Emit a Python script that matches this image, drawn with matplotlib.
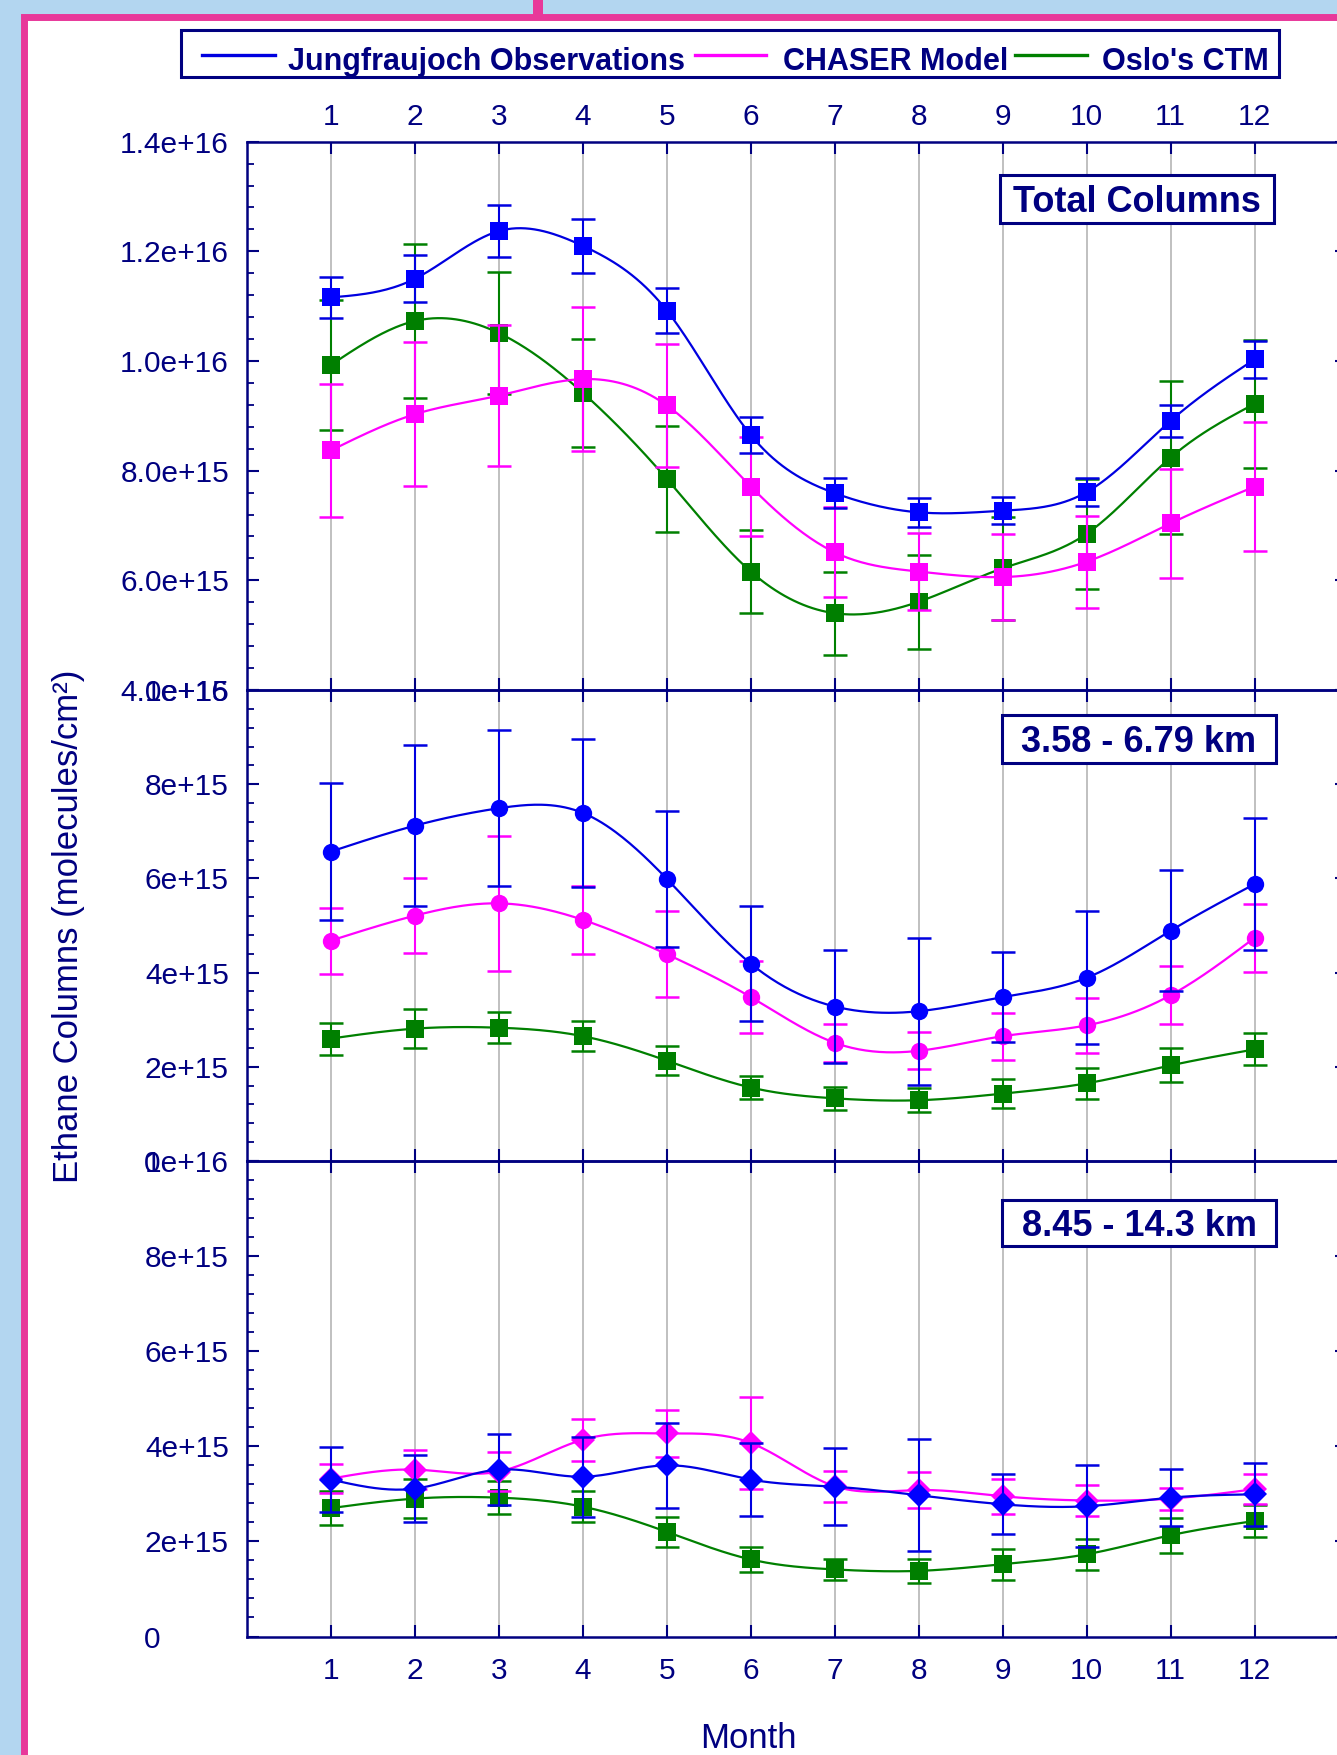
import numpy as np
import matplotlib
matplotlib.use('Agg')
import matplotlib.pyplot as plt
from matplotlib.patches import Rectangle
from matplotlib.lines import Line2D
from matplotlib.ticker import MultipleLocator, FixedLocator
import matplotlib.transforms as mtrans

plt.rcParams['font.family'] = ['Liberation Sans', 'DejaVu Sans']

# ---------------- data (units of 1e15 molecules/cm2) ----------------
months = [1, 2, 3, 4, 5, 6, 7, 8, 9, 10, 11, 12]
month_labels = ['1', '2', '3', '4', '5', '6', '7', '8', '9', '10', '11', '12']

series_names = ["Jungfraujoch Observations", "CHASER Model", "Oslo's CTM"]

# Total columns
tot_obs = [11.16, 11.50, 12.37, 12.10, 10.92, 8.65, 7.59, 7.24, 7.27, 7.61, 8.91, 10.03]
tot_obs_err = [0.37, 0.43, 0.48, 0.49, 0.41, 0.32, 0.27, 0.26, 0.25, 0.26, 0.29, 0.34]
tot_chaser = [8.37, 9.03, 9.37, 9.67, 9.19, 7.71, 6.51, 6.16, 6.06, 6.34, 7.04, 7.71]
tot_chaser_err = [1.21, 1.31, 1.29, 1.32, 1.12, 0.90, 0.82, 0.71, 0.79, 0.84, 0.99, 1.18]
tot_oslo = [9.93, 10.73, 10.51, 9.42, 7.85, 6.16, 5.40, 5.61, 6.22, 6.85, 8.24, 9.22]
tot_oslo_err = [1.18, 1.40, 1.12, 0.99, 0.97, 0.75, 0.76, 0.86, 0.94, 1.00, 1.40, 1.17]

# 3.58 - 6.79 km
mid_obs = [6.57, 7.12, 7.49, 7.39, 5.99, 4.19, 3.28, 3.18, 3.48, 3.89, 4.89, 5.88]
mid_obs_err = [1.45, 1.71, 1.66, 1.58, 1.45, 1.22, 1.20, 1.56, 0.95, 1.41, 1.29, 1.41]
mid_chaser = [4.68, 5.21, 5.47, 5.12, 4.39, 3.48, 2.51, 2.34, 2.65, 2.88, 3.52, 4.74]
mid_chaser_err = [0.70, 0.80, 1.43, 0.72, 0.91, 0.77, 0.40, 0.39, 0.50, 0.58, 0.62, 0.72]
mid_oslo = [2.60, 2.81, 2.83, 2.65, 2.13, 1.56, 1.33, 1.29, 1.43, 1.65, 2.03, 2.37]
mid_oslo_err = [0.34, 0.41, 0.33, 0.32, 0.31, 0.25, 0.24, 0.25, 0.31, 0.33, 0.36, 0.34]

# 8.45 - 14.3 km
up_obs = [3.30, 3.11, 3.51, 3.36, 3.60, 3.30, 3.15, 2.97, 2.78, 2.74, 2.92, 2.99]
up_obs_err = [0.68, 0.70, 0.75, 0.84, 0.90, 0.77, 0.81, 1.18, 0.63, 0.86, 0.60, 0.66]
up_chaser = [3.32, 3.51, 3.47, 4.14, 4.27, 4.07, 3.16, 3.08, 2.95, 2.86, 2.90, 3.10]
up_chaser_err = [0.30, 0.41, 0.42, 0.44, 0.50, 0.97, 0.33, 0.38, 0.37, 0.32, 0.23, 0.32]
up_oslo = [2.70, 2.90, 2.92, 2.73, 2.20, 1.62, 1.41, 1.38, 1.52, 1.73, 2.13, 2.43]
up_oslo_err = [0.36, 0.41, 0.35, 0.33, 0.31, 0.26, 0.23, 0.26, 0.33, 0.33, 0.37, 0.34]

panel_titles = ["Total Columns", "3.58 - 6.79 km", "8.45 - 14.3 km"]

# y tick labels per panel: (value, text, alignment)
ytick_labels_top = [(14, '1.4e+16', 'r'), (12, '1.2e+16', 'r'), (10, '1.0e+16', 'r'),
                    (8, '8.0e+15', 'r'), (6, '6.0e+15', 'r'), (4, '4.0e+15', 'r')]
ytick_labels_mid = [(10, '1e+16', 'r'), (8, '8e+15', 'r'), (6, '6e+15', 'r'),
                    (4, '4e+15', 'r'), (2, '2e+15', 'r'), (0, '0', 'l')]
ytick_labels_bot = [(10, '1e+16', 'r'), (8, '8e+15', 'r'), (6, '6e+15', 'r'),
                    (4, '4e+15', 'r'), (2, '2e+15', 'r'), (0, '0', 'l')]

# ---------------- styling ----------------
NAVY = '#000080'
BLUE_M, BLUE_L = '#0000FF', '#0000E0'
MAG = '#FF00FF'
GREEN_M, GREEN_L = '#007F00', '#008000'
BG = '#B3D6F0'
PINK = '#E8389A'

W, H = 1337, 1755
fig = plt.figure(figsize=(W / 100, H / 100), dpi=100)
fig.patch.set_facecolor(BG)


def fx(x):
    return x / W


def fy(y):
    return 1 - y / H


# pink frame with white interior
frame = Rectangle((fx(24.5), fy(1900)), (1500 - 24.5) / W, (1900 - 16.5) / H,
                  transform=fig.transFigure, facecolor='white', edgecolor=PINK,
                  linewidth=5.0, zorder=-2)
fig.add_artist(frame)
fig.add_artist(Rectangle((fx(533), fy(16)), 10 / W, 16 / H, transform=fig.transFigure,
                         facecolor=PINK, edgecolor='none', zorder=-1))


def natural_spline(x, y, num=400):
    x = np.asarray(x, float)
    y = np.asarray(y, float)
    n = len(x)
    h = np.diff(x)
    A = np.zeros((n, n))
    b = np.zeros(n)
    A[0, 0] = A[-1, -1] = 1
    for i in range(1, n - 1):
        A[i, i - 1] = h[i - 1]
        A[i, i] = 2 * (h[i - 1] + h[i])
        A[i, i + 1] = h[i]
        b[i] = 3 * ((y[i + 1] - y[i]) / h[i] - (y[i] - y[i - 1]) / h[i - 1])
    c = np.linalg.solve(A, b)
    xs = np.linspace(x[0], x[-1], num)
    idx = np.clip(np.searchsorted(x, xs) - 1, 0, n - 2)
    dx = xs - x[idx]
    bc = (y[1:] - y[:-1]) / h - h * (2 * c[:-1] + c[1:]) / 3
    dc = (c[1:] - c[:-1]) / (3 * h)
    ys = y[idx] + bc[idx] * dx + c[idx] * dx ** 2 + dc[idx] * dx ** 3
    return xs, ys


panels = [
    dict(top=141.7, bot=690.0, ylim=(4, 14), labels=ytick_labels_top,
         series=[(tot_oslo, tot_oslo_err, GREEN_M, GREEN_L, 's', 12.5),
                 (tot_chaser, tot_chaser_err, MAG, MAG, 's', 12.5),
                 (tot_obs, tot_obs_err, BLUE_M, BLUE_L, 's', 12.5)],
         box=(1000, 174.5, 1274, 222.5)),
    dict(top=690.0, bot=1161.0, ylim=(0, 10), labels=ytick_labels_mid,
         series=[(mid_oslo, mid_oslo_err, GREEN_M, GREEN_L, 's', 12.5),
                 (mid_chaser, mid_chaser_err, MAG, MAG, 'o', 12.5),
                 (mid_obs, mid_obs_err, BLUE_M, BLUE_L, 'o', 12.5)],
         box=(1002, 715, 1276, 763)),
    dict(top=1161.0, bot=1636.5, ylim=(0, 10), labels=ytick_labels_bot,
         series=[(up_oslo, up_oslo_err, GREEN_M, GREEN_L, 's', 12.5),
                 (up_chaser, up_chaser_err, MAG, MAG, 'D', 12),
                 (up_obs, up_obs_err, BLUE_M, BLUE_L, 'D', 12)],
         box=(1002, 1199.5, 1276, 1245.5)),
]

XL, XR = 247, 1347
for i, p in enumerate(panels):
    ax = fig.add_axes([fx(XL), fy(p['bot']), (XR - XL) / W, (p['bot'] - p['top']) / H])
    ax.set_facecolor('white')
    ax.patch.set_alpha(0)
    ax.set_xlim(0, 13.1)
    ax.set_ylim(*p['ylim'])
    for sp in ax.spines.values():
        sp.set_color(NAVY)
        sp.set_linewidth(1.8)
    ax.xaxis.set_major_locator(FixedLocator(months))
    ax.set_xticklabels(month_labels)
    ax.yaxis.set_major_locator(MultipleLocator(2))
    ax.yaxis.set_minor_locator(MultipleLocator(0.4))
    ax.tick_params(axis='x', which='major', direction='in', length=8.6, width=1.5,
                   color=NAVY, top=True, bottom=True, labeltop=(i == 0),
                   labelbottom=(i == 2), labelsize=21.5, labelcolor=NAVY,
                   pad=(8 if i == 0 else 15))
    ax.tick_params(axis='y', which='major', direction='in', length=8.6, width=1.5,
                   color=NAVY, left=True, right=True, labelleft=False)
    ax.tick_params(axis='y', which='minor', direction='in', length=5, width=1.3,
                   color=NAVY, left=True, right=False)
    ax.grid(axis='x', color='#C0C0C0', linewidth=1.4)
    ax.set_axisbelow(True)

    for z, (vals, errs, cm, cl, mk, ms) in enumerate(p['series']):
        ax.errorbar(months, vals, yerr=errs, fmt='none', ecolor=cl, elinewidth=1.5,
                    capsize=8.5, capthick=1.8, zorder=3 + z)
        xs, ys = natural_spline(months, vals)
        ax.plot(xs, ys, color=cl, linewidth=1.6, zorder=3 + z)
        ax.plot(months, vals, linestyle='none', marker=mk, markersize=ms,
                markerfacecolor=cm, markeredgecolor=cm, markeredgewidth=0, zorder=3.5 + z)

    # y tick labels
    tr = mtrans.blended_transform_factory(fig.transFigure, ax.transData)
    for v, t, al in p['labels']:
        if al == 'r':
            ax.text(fx(229), v, t, transform=tr, ha='right', va='center_baseline',
                    fontsize=21.5, color=NAVY)
        else:
            ax.text(fx(144), v, t, transform=tr, ha='left', va='center_baseline',
                    fontsize=21.5, color=NAVY)

    # panel title box
    x0, y0, x1, y1 = p['box']
    fig.add_artist(Rectangle((fx(x0), fy(y1)), (x1 - x0) / W, (y1 - y0) / H,
                             transform=fig.transFigure, facecolor='white',
                             edgecolor=NAVY, linewidth=2.2, zorder=10))
    fig.text(fx((x0 + x1) / 2), fy((y0 + y1) / 2), panel_titles[i], ha='center',
             va='center_baseline', fontsize=26, fontweight='bold', color=NAVY, zorder=11)

# legend
fig.add_artist(Rectangle((fx(181), fy(77)), (1278.5 - 181) / W, (77 - 30.5) / H,
                         transform=fig.transFigure, facecolor='white', edgecolor=NAVY,
                         linewidth=2.2, zorder=10))
leg = [(202, 274.5, 288, BLUE_L), (695, 765.5, 782.6, MAG), (1014.5, 1087, 1102, GREEN_L)]
for (l0, l1, tx, col), name in zip(leg, series_names):
    fig.add_artist(Line2D([fx(l0), fx(l1)], [fy(55), fy(55)], transform=fig.transFigure,
                          color=col, linewidth=2.4, zorder=11))
    fig.text(fx(tx), fy(58.5), name, ha='left', va='center_baseline', fontsize=22,
             fontweight='bold', color=NAVY, zorder=11)

fig.text(fx(69), fy(926), 'Ethane Columns (molecules/cm²)', rotation=90, ha='center',
         va='center', fontsize=25, color=NAVY)
fig.text(fx(748), fy(1739), 'Month', ha='center', va='center', fontsize=25, color=NAVY)

fig.savefig('out.png', dpi=100, facecolor=fig.get_facecolor())
